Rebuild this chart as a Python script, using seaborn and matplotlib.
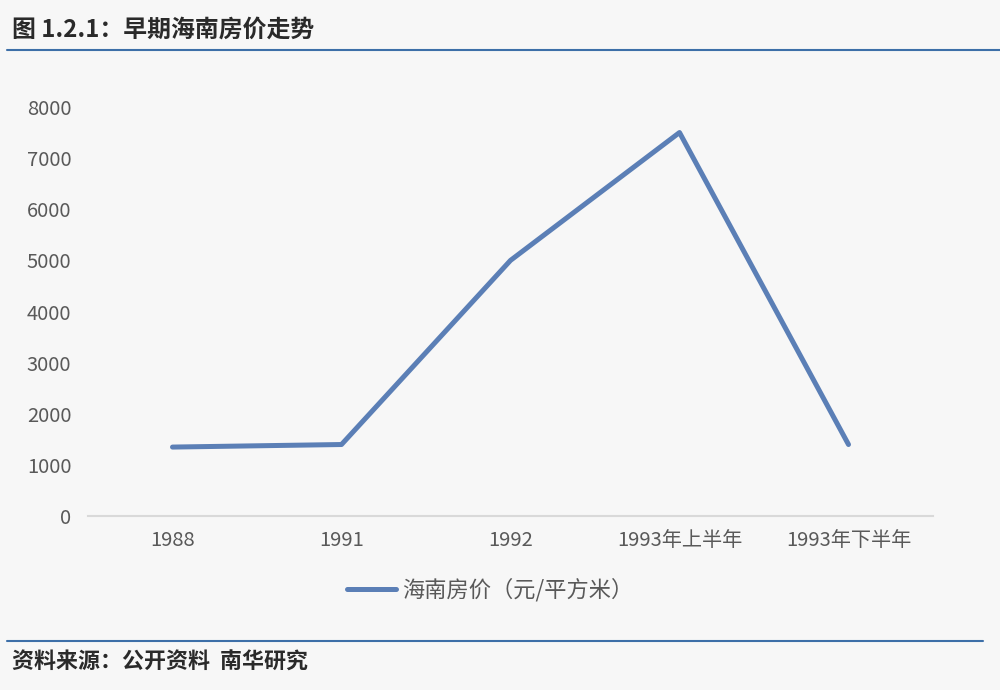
import pandas as pd
import seaborn as sns
import matplotlib.pyplot as plt
from matplotlib.lines import Line2D

# data
periods = ['1988', '1991', '1992', '1993年上半年', '1993年下半年']
prices = [1350, 1400, 5000, 7500, 1400]
series_name = '海南房价（元/平方米）'

df = pd.DataFrame({'period': periods, 'price': prices})

sns.set_theme(style='white')
plt.rcParams['font.family'] = ['Noto Sans CJK SC', 'DejaVu Sans']

bg = '#f7f7f7'
line_color = '#5b7fb6'
fig = plt.figure(figsize=(10, 6.9), dpi=100, facecolor=bg)
ax = fig.add_axes([0.088, 0.252, 0.845, 0.593], facecolor=bg)

sns.lineplot(data=df, x='period', y='price', sort=False, ax=ax,
             color=line_color, linewidth=3.6, solid_capstyle='round',
             solid_joinstyle='round', legend=False)

ax.set_xlim(-0.5, len(periods) - 0.5)
ax.set_ylim(0, 8000)
ax.set_yticks(range(0, 8001, 1000))
ax.set_xlabel('')
ax.set_ylabel('')
for s in ['top', 'right', 'left']:
    ax.spines[s].set_visible(False)
ax.spines['bottom'].set_color('#d9d9d9')
ax.spines['bottom'].set_linewidth(1.5)
ax.tick_params(axis='both', length=0, labelsize=14.5, colors='#595959')
ax.tick_params(axis='x', pad=10)
ax.tick_params(axis='y', pad=12)

# legend below the plot
handle = Line2D([0], [0], color=line_color, linewidth=3.6, solid_capstyle='round')
fig.legend([handle], [series_name], loc='center', bbox_to_anchor=(0.49, 0.145),
           frameon=False, fontsize=16, handlelength=2.2, handletextpad=0.25,
           labelcolor='#595959')

# title and source with blue rules
fig.text(0.012, 0.957, '图 1.2.1：早期海南房价走势', fontsize=17.2, fontweight='bold',
         color='#2a2a2a', va='center', ha='left')
fig.add_artist(Line2D([0.007, 1.0], [0.927, 0.927], color='#3d6fa8', linewidth=1.5))
fig.add_artist(Line2D([0.007, 0.983], [0.071, 0.071], color='#3d6fa8', linewidth=1.5))
fig.text(0.012, 0.04, '资料来源：公开资料  南华研究', fontsize=15.8, fontweight='bold',
         color='#2a2a2a', va='center', ha='left')

fig.savefig('out.png', dpi=100, facecolor=bg)
